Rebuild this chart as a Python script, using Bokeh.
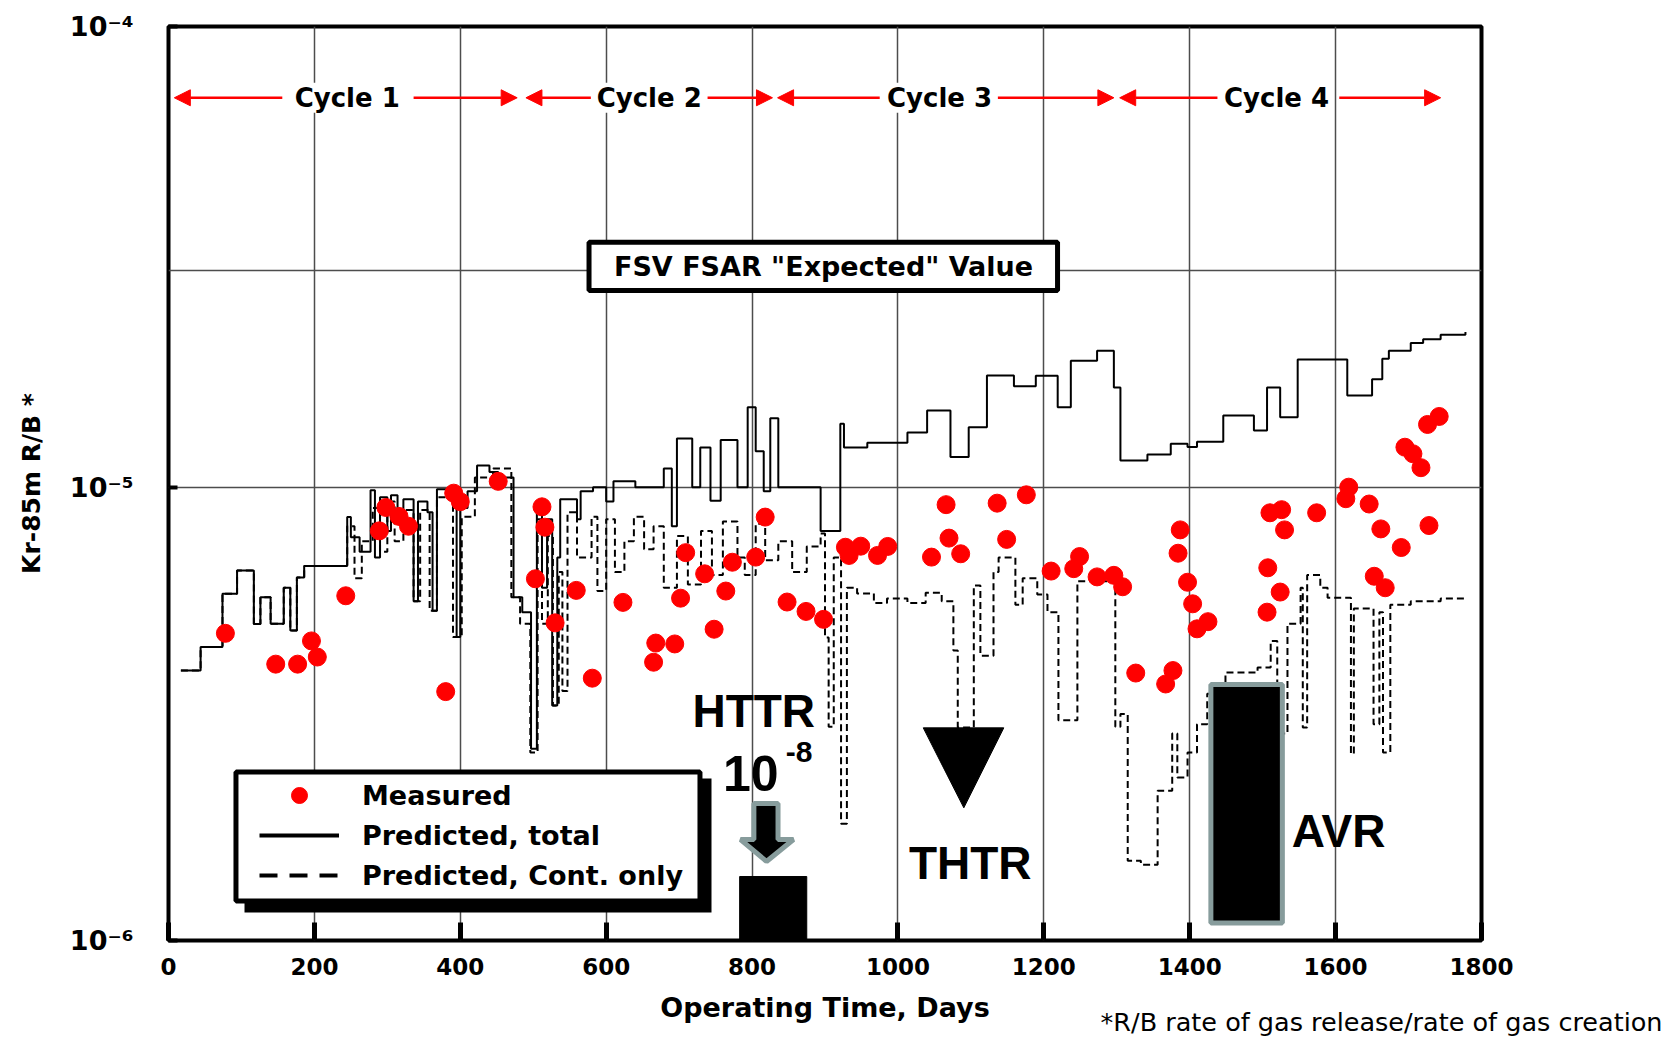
import math
from bokeh.plotting import figure
from bokeh.models import (Range1d, FixedTicker, CustomJSTickFormatter, Label, BoxAnnotation,
                          Arrow, NormalHead, Legend, LegendItem)
from bokeh.embed import file_html
from bokeh.resources import INLINE

# ---------------- data (R/B values given in units of 1e-6) ----------------
UNIT = 1e-6
measured_day = [78, 147, 177, 196, 204, 243, 289, 298, 316, 329, 380, 391, 400, 452, 503,
                512, 516, 530, 559, 581, 623, 665, 668, 694, 702, 709, 735, 748, 764, 773,
                805, 818, 848, 874, 898, 928, 933, 949, 972, 986, 1046, 1066, 1070, 1086, 1136,
                1149, 1176, 1210, 1241, 1249, 1273, 1296, 1308, 1326, 1367, 1377, 1387, 1384, 1397, 1404,
                1425, 1410, 1510, 1526, 1530, 1574, 1507, 1524, 1506, 1618, 1614, 1646, 1662, 1690, 1728,
                1653, 1668, 1695, 1706, 1717, 1726, 1742]
measured_rb = [4.76, 4.07, 4.07, 4.58, 4.22, 5.76, 8.01, 9.02, 8.62, 8.20, 3.54, 9.70, 9.29, 10.3, 6.28,
               9.05, 8.16, 5.02, 5.92, 3.79, 5.57, 4.11, 4.53, 4.51, 5.69, 7.17, 6.44, 4.86, 5.90, 6.83,
               7.01, 8.59, 5.58, 5.32, 5.11, 7.37, 7.07, 7.41, 7.07, 7.40, 7.01, 9.15, 7.72, 7.13, 9.22,
               7.67, 9.62, 6.53, 6.61, 7.03, 6.34, 6.39, 6.03, 3.89, 3.68, 3.94, 8.05, 7.15, 6.17, 5.53,
               5.05, 4.87, 8.78, 8.92, 8.05, 8.78, 6.64, 5.87, 5.30, 10.0, 9.43, 9.18, 8.09, 7.36, 8.23,
               6.36, 6.00, 12.25, 11.85, 11.04, 13.75, 14.32]

total_day = [17, 44, 74, 94, 117, 126, 140, 158, 167, 176, 186, 245, 250, 262, 277, 283, 290, 300, 305, 314,
             322, 336, 342, 355, 362, 368, 387, 395, 400, 410, 423, 440, 452, 473, 485, 497, 505, 512, 519, 526,
             533, 537, 560, 565, 582, 600, 610, 640, 679, 690, 697, 718, 729, 743, 757, 780, 794, 805, 816, 825,
             836, 894, 921, 926, 958, 1013, 1040, 1072, 1097, 1122, 1159, 1189, 1219, 1237, 1273, 1296, 1305,
             1342, 1374, 1397, 1410, 1446, 1488, 1506, 1524, 1548, 1616, 1650, 1664, 1673, 1703, 1720, 1744, 1778]
total_rb = [3.94, 4.44, 5.82, 6.55, 4.99, 5.72, 5.0, 6.0, 4.83, 6.32, 6.7, 8.59, 7.75, 7.2, 9.84, 7.0, 9.5, 8.0, 9.6, 8.3,
            9.4, 5.6, 9.3, 8.8, 5.34, 9.9, 9.5, 4.67, 9.0, 9.8, 11.16, 10.8, 10.5, 5.72, 5.3, 2.65, 9.02, 6.0, 8.5, 3.3,
            7.0, 9.4, 8.5, 9.8, 10.0, 9.3, 10.3, 10.0, 11.0, 8.2, 12.8, 10.0, 12.24, 9.33, 12.7, 10.0, 15.0, 12.0, 9.8, 14.2,
            10.0, 8.0, 13.8, 12.24, 12.53, 13.2, 14.76, 11.65, 13.56, 17.63, 16.7, 17.6, 15.0, 19.0, 20.0, 16.6, 11.45,
            11.8, 12.46, 12.27, 12.6, 14.4, 13.34, 16.6, 14.27, 19.13, 15.94, 17.3, 19.2, 20.0, 20.8, 21.2, 21.7, 22.0]

cont_day = [17, 44, 74, 94, 117, 126, 140, 158, 167, 176, 186, 245, 255, 265, 280, 290, 300, 310, 322, 336,
            345, 358, 368, 390, 402, 420, 445, 470, 482, 496, 506, 512, 520, 527, 535, 540, 547, 560, 580, 588,
            600, 612, 625, 638, 652, 665, 679, 697, 712, 730, 745, 760, 780, 790, 805, 818, 836, 855, 875, 894,
            900, 905, 912, 922, 930, 944, 967, 985, 1013, 1038, 1060, 1076, 1082, 1104, 1113, 1131, 1138, 1161,
            1171, 1191, 1205, 1220, 1246, 1298, 1305, 1315, 1333, 1356, 1376, 1383, 1397, 1410, 1424, 1449, 1493,
            1511, 1520, 1534, 1552, 1555, 1561, 1579, 1589, 1621, 1625, 1652, 1660, 1665, 1675, 1703, 1744, 1778]
cont_rb = [3.94, 4.44, 5.82, 6.55, 4.99, 5.72, 5.0, 6.0, 4.83, 6.32, 6.7, 8.2, 6.3, 7.6, 9.0, 7.2, 9.3, 7.6, 8.9, 5.6,
           8.9, 5.34, 9.5, 4.67, 8.6, 10.5, 11.0, 5.72, 5.0, 2.6, 8.5, 5.0, 7.8, 3.3, 6.5, 3.55, 8.8, 7.0, 8.6, 5.9,
           8.5, 6.5, 7.6, 8.6, 7.3, 8.2, 6.0, 7.8, 6.1, 8.0, 6.4, 8.4, 7.0, 6.4, 8.3, 6.9, 7.6, 6.5, 7.4, 7.9,
           4.66, 2.96, 7.0, 1.81, 6.0, 5.83, 5.55, 5.68, 5.55, 5.85, 5.6, 4.36, 2.95, 6.07, 4.25, 6.5, 7.0, 5.5,
           6.3, 5.8, 5.3, 3.06, 6.2, 2.96, 3.16, 1.5, 1.47, 2.14, 2.86, 2.29, 2.6, 3.0, 3.5, 3.9, 4.0,
           4.58, 2.86, 5.0, 6.0, 2.95, 6.4, 6.0, 5.7, 2.58, 5.4, 3.0, 5.3, 2.6, 5.5, 5.6, 5.68, 5.68]

x_ticks = [0, 200, 400, 600, 800, 1000, 1200, 1400, 1600, 1800]
y_decades = [1e-6, 1e-5]
Y_TOP = 1.038e-4          # top of the value axis (labelled 10^-4)
fsv_expected = 3.0e-5     # FSV FSAR "Expected" value line

cycle_names = ["Cycle 1", "Cycle 2", "Cycle 3", "Cycle 4"]
cycle_start = [8, 490, 835, 1304]
cycle_end = [478, 828, 1296, 1744]
cycle_label_day = [245, 659, 1057, 1519]
cycle_gap = [(156, 336), (579, 739), (975, 1137), (1438, 1605)]

# other reactors (annotations)
httr_bar = dict(left=783, right=875, top=1.384e-6)
avr_bar = dict(left=1429, right=1527, bottom=1.093e-6, top=3.672e-6)
thtr_x = [1034.7, 1145.1, 1090.3]
thtr_y = [2.945e-6, 2.945e-6, 1.962e-6]
httr_arrow_x = [802.5, 835.6, 835.6, 856.8, 819.8, 784.2, 802.5]
httr_arrow_y = [2.005e-6, 2.005e-6, 1.670e-6, 1.670e-6, 1.494e-6, 1.670e-6, 1.670e-6]

m_rb = [v * UNIT for v in measured_rb]
t_rb = [v * UNIT for v in total_rb]
c_rb = [v * UNIT for v in cont_rb]

BOLD_FONT = "DejaVu Sans"
ARIAL = "Liberation Sans"
GRAY = "#879c9c"

p = figure(frame_width=1313, frame_height=914, y_axis_type="log",
           x_range=Range1d(0, 1800), y_range=Range1d(1e-6, Y_TOP),
           output_backend="svg", toolbar_location=None,
           min_border_left=168, min_border_top=26, min_border_right=186, min_border_bottom=91)
p.background_fill_color = "white"
p.border_fill_color = "white"
p.outline_line_color = "black"
p.outline_line_width = 4

# axes
p.xaxis.ticker = FixedTicker(ticks=x_ticks, minor_ticks=[])
p.xaxis.axis_line_color = None
p.xaxis.major_tick_in = 18
p.xaxis.major_tick_out = 0
p.xaxis.major_tick_line_width = 5
p.xaxis.minor_tick_line_color = None
p.xaxis.major_label_standoff = 17
p.xaxis.major_label_text_font = BOLD_FONT
p.xaxis.major_label_text_font_style = "bold"
p.xaxis.major_label_text_font_size = "23px"
p.xaxis.major_label_text_color = "black"
p.xaxis.axis_label = "Operating Time, Days"
p.xaxis.axis_label_text_font = BOLD_FONT
p.xaxis.axis_label_text_font_style = "bold"
p.xaxis.axis_label_text_font_size = "27px"
p.xaxis.axis_label_text_color = "black"
p.xaxis.axis_label_standoff = 14

p.yaxis.ticker = FixedTicker(ticks=y_decades + [Y_TOP], minor_ticks=[])
p.yaxis.formatter = CustomJSTickFormatter(code="""
    const e = Math.round(Math.log10(tick));
    const sup = {"-": "\\u207B", "0": "\\u2070", "1": "\\u00B9", "2": "\\u00B2", "3": "\\u00B3",
                 "4": "\\u2074", "5": "\\u2075", "6": "\\u2076", "7": "\\u2077", "8": "\\u2078", "9": "\\u2079"};
    return "10" + String(e).split("").map(c => sup[c]).join("");
""")
p.yaxis.axis_line_color = None
p.yaxis.major_tick_in = 9
p.yaxis.major_tick_out = 0
p.yaxis.major_tick_line_width = 4
p.yaxis.minor_tick_line_color = None
p.yaxis.major_label_standoff = 35
p.yaxis.major_label_text_font = BOLD_FONT
p.yaxis.major_label_text_font_style = "bold"
p.yaxis.major_label_text_font_size = "27px"
p.yaxis.major_label_text_color = "black"
p.yaxis.axis_label = "Kr-85m R/B *"
p.yaxis.axis_label_text_font = BOLD_FONT
p.yaxis.axis_label_text_font_style = "bold"
p.yaxis.axis_label_text_font_size = "25px"
p.yaxis.axis_label_text_color = "black"
p.yaxis.axis_label_standoff = 21

# grids
p.xgrid.ticker = FixedTicker(ticks=x_ticks, minor_ticks=[])
p.xgrid.grid_line_color = "#4d4d4d"
p.xgrid.grid_line_width = 1.5
p.ygrid.ticker = FixedTicker(ticks=[1e-5, fsv_expected], minor_ticks=[])
p.ygrid.grid_line_color = "#4d4d4d"
p.ygrid.grid_line_width = 1.5

# predicted lines
r_total = p.step(total_day, t_rb, mode="after", line_color="black", line_width=2)
r_cont = p.step(cont_day, c_rb, mode="after", line_color="black", line_width=2, line_dash="7 4")

# other reactors
p.quad(left=[httr_bar["left"]], right=[httr_bar["right"]], bottom=[1e-6], top=[httr_bar["top"]],
       fill_color="black", line_color="black")
p.patch(httr_arrow_x, httr_arrow_y, fill_color="black", line_color=GRAY, line_width=5)
p.quad(left=[avr_bar["left"]], right=[avr_bar["right"]], bottom=[avr_bar["bottom"]], top=[avr_bar["top"]],
       fill_color="black", line_color=GRAY, line_width=5)
p.patch(thtr_x, thtr_y, fill_color="black", line_color="black", line_width=1)

# measured points
r_meas = p.scatter(measured_day, m_rb, size=18, fill_color="#ff0000", line_color="#ff0000")

# cycle arrows and labels
ARROW_Y = 7.227e-5
for name, x0, x1, xl, (g0, g1) in zip(cycle_names, cycle_start, cycle_end, cycle_label_day, cycle_gap):
    for xs, xe in ((g0, x0), (g1, x1)):
        p.add_layout(Arrow(x_start=xs, y_start=ARROW_Y, x_end=xe, y_end=ARROW_Y,
                           line_color="red", line_width=2.5,
                           end=NormalHead(size=16, fill_color="red", line_color="red")))
    p.add_layout(Label(x=xl, y=ARROW_Y, text=name, text_align="center", text_baseline="middle",
                       text_font=BOLD_FONT, text_font_style="bold", text_font_size="26px",
                       text_color="black", background_fill_color="white", background_fill_alpha=1.0))

# FSV FSAR box
p.add_layout(BoxAnnotation(left=576.5, right=1218.8, bottom=2.7166e-5, top=3.4712e-5,
                           fill_color="white", fill_alpha=1.0, line_color="black", line_alpha=1.0,
                           line_width=5))
p.add_layout(Label(x=898, y=3.0717e-5, text='FSV FSAR "Expected" Value', text_align="center",
                   text_baseline="middle", text_font=BOLD_FONT, text_font_style="bold",
                   text_font_size="27px", text_color="black"))

# reactor labels
for txt, x, y, size, align in (("HTTR", 802.3, 3.21e-6, "46px", "center"),
                               ("10", 836.3, 2.335e-6, "50px", "right"),
                               ("-8", 846.1, 2.60e-6, "30px", "left"),
                               ("THTR", 1099.1, 1.485e-6, "46px", "center"),
                               ("AVR", 1604, 1.748e-6, "46px", "center")):
    p.add_layout(Label(x=x, y=y, text=txt, text_align=align, text_baseline="alphabetic",
                       text_font=ARIAL, text_font_style="bold", text_font_size=size,
                       text_color="black"))

# legend (box with shadow)
p.add_layout(BoxAnnotation(left=104.2, right=744.4, bottom=1.1527e-6, top=2.2774e-6,
                           fill_color="black", fill_alpha=1.0, line_color=None))
p.add_layout(BoxAnnotation(left=92.5, right=728.6, bottom=1.2224e-6, top=2.353e-6,
                           fill_color="white", fill_alpha=1.0, line_color="black", line_alpha=1.0,
                           line_width=5))
leg_total = p.line([math.nan], [math.nan], line_color="black", line_width=4)
leg_cont = p.line([math.nan], [math.nan], line_color="black", line_width=4, line_dash="18 12")
legend = Legend(items=[LegendItem(label="Measured", renderers=[r_meas]),
                       LegendItem(label="Predicted, total", renderers=[leg_total]),
                       LegendItem(label="Predicted, Cont. only", renderers=[leg_cont])],
                location=(91, 45), orientation="vertical",
                background_fill_alpha=0.0, border_line_alpha=0.0,
                padding=0, spacing=0, margin=0, label_height=40, glyph_height=40, glyph_width=80,
                label_standoff=23, label_text_font=BOLD_FONT, label_text_font_style="bold",
                label_text_font_size="27px", label_text_color="black")
p.add_layout(legend)

# footnote (placed in the lower side panel so that it is not clipped to the plot area)
p.add_layout(Label(x=1277.8, y=6.60e-7, text="*R/B rate of gas release/rate of gas creation",
                   text_align="left", text_baseline="middle", text_font=BOLD_FONT,
                   text_font_style="normal", text_font_size="25.5px", text_color="black"), "below")

open("out.html", "w").write(file_html(p, INLINE))
